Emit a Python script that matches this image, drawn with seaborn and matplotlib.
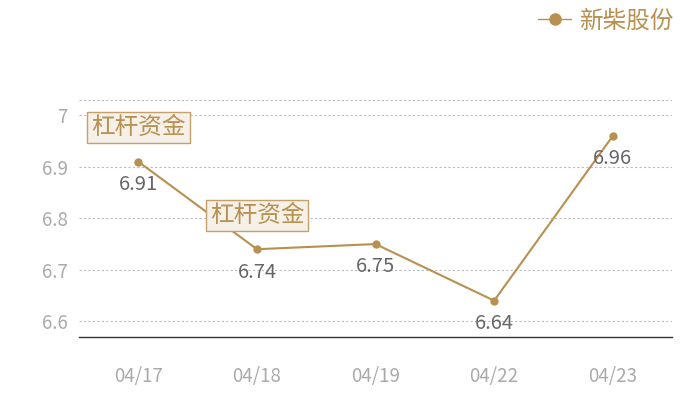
import matplotlib
matplotlib.use("Agg")
import matplotlib.pyplot as plt
import seaborn as sns
import pandas as pd

dates = ["04/17", "04/18", "04/19", "04/22", "04/23"]
prices = [6.91, 6.74, 6.75, 6.64, 6.96]
yticks = [6.6, 6.7, 6.8, 6.9, 7.0]
ytick_labels = ["6.6", "6.7", "6.8", "6.9", "7"]
series_name = "新柴股份"
flag_text = "杠杆资金"
flag_dates = ["04/17", "04/18"]

gold = "#b8904f"
grey_tick = "#aaaaaa"
grey_label = "#666666"

sns.set_theme(style="white")
plt.rcParams["font.family"] = ["Noto Sans CJK SC", "DejaVu Sans"]

df = pd.DataFrame({"date": dates, "price": prices})
df["x"] = range(len(df))

fig = plt.figure(figsize=(7, 4), dpi=100)
ax = fig.add_axes([0.113, 0.157, 0.847, 0.593])

sns.lineplot(data=df, x="x", y="price", ax=ax, color=gold, linewidth=1.5,
             marker="o", markersize=6, markeredgewidth=0, label=series_name)

ax.set_xlim(-0.5, len(df) - 0.5)
ax.set_ylim(6.569, 7.030)
ax.set_xticks(df["x"])
ax.set_xticklabels(dates)
ax.set_yticks(yticks)
ax.set_yticklabels(ytick_labels)
ax.tick_params(axis="x", colors=grey_tick, labelsize=13.5, length=0, pad=21)
ax.tick_params(axis="y", colors=grey_tick, labelsize=13.5, length=0, pad=8)
ax.set_xlabel("")
ax.set_ylabel("")

for y in yticks + [7.030]:
    ax.axhline(y, color="#bbbbbb", linestyle=(0, (2, 2)), linewidth=0.8, zorder=0)

for s in ["top", "right", "left"]:
    ax.spines[s].set_visible(False)
ax.spines["bottom"].set_color("#333333")
ax.spines["bottom"].set_linewidth(1)

for _, r in df.iterrows():
    ax.annotate(f"{r['price']:.2f}", (r["x"], r["price"]), xytext=(0, -16.5),
                textcoords="offset points", ha="center", va="center",
                fontsize=14.5, color=grey_label)

for d in flag_dates:
    r = df[df["date"] == d].iloc[0]
    ax.annotate(flag_text, (r["x"], r["price"]), xytext=(0, 24.5),
                textcoords="offset points", ha="center", va="center",
                fontsize=17, color=gold,
                bbox=dict(boxstyle="square,pad=0.17", fc="#f5f0e8", ec="#c4a06a", lw=1))

leg = ax.legend(loc="upper right", bbox_to_anchor=(0.975, 1.0), bbox_transform=fig.transFigure,
                frameon=False, fontsize=17, handlelength=1.4, handletextpad=0.3,
                borderaxespad=0)
for t in leg.get_texts():
    t.set_color(gold)
for h in leg.legend_handles:
    h.set_markersize(9)
    h.set_linewidth(1)

fig.savefig("out.png", dpi=100)
